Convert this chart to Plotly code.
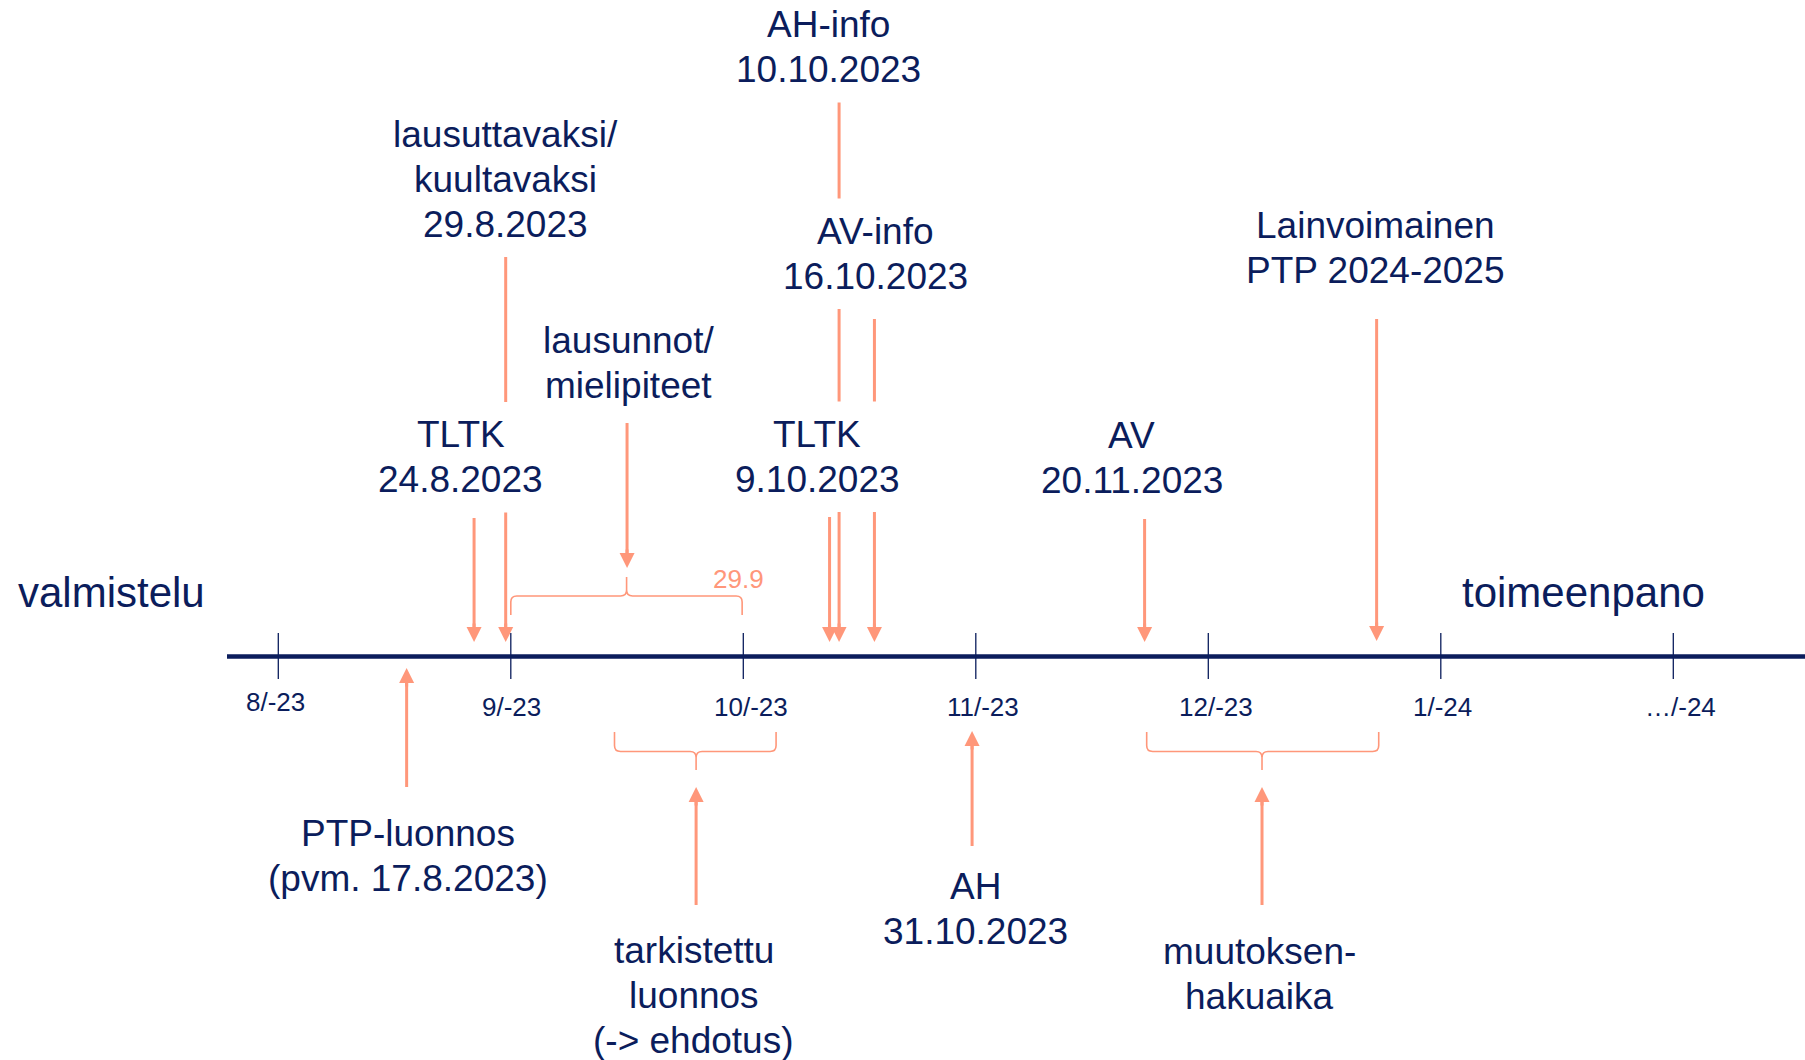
import plotly.graph_objects as go

# ---------------- data ----------------
# month ticks on the timeline (0 = 8/-23 ... 6 = …/-24)
tick_pos = [0, 1, 2, 3, 4, 5, 6]
tick_labels = ["8/-23", "9/-23", "10/-23", "11/-23", "12/-23", "1/-24", "…/-24"]
tick_label_dx = [-5, -2, -2, -2, -2, -1, -1]    # small per-label nudges (px)
tick_label_base = [711.5, 716, 716, 716, 716, 716, 716]

phase_labels = ["valmistelu", "toimeenpano"]
phase_x = [-1.124, 5.086]

# milestones above the timeline (arrows pointing down), x in months
top_x = [0.842, 0.978, 1.500, 2.371, 2.412, 2.564, 3.726, 4.724]
top_start = [518, 257, 423, 517, 101, 319, 519, 319]
top_tip = [642, 642, 568, 642, 642, 642, 642, 641]

# milestones below the timeline (arrows pointing up)
bot_x = [0.552, 1.797, 2.984, 4.231]
bot_start = [787, 905, 846, 905]
bot_tip = [668, 787, 731, 787]

label_text = [
    "AH-info\n10.10.2023",
    "lausuttavaksi/\nkuultavaksi\n29.8.2023",
    "AV-info\n16.10.2023",
    "Lainvoimainen\nPTP 2024-2025",
    "lausunnot/\nmielipiteet",
    "TLTK\n24.8.2023",
    "TLTK\n9.10.2023",
    "AV\n20.11.2023",
    "PTP-luonnos\n(pvm. 17.8.2023)",
    "tarkistettu\nluonnos\n(-> ehdotus)",
    "AH\n31.10.2023",
    "muutoksen-\nhakuaika",
]
label_x = [2.366, 0.978, 2.569, 4.720, 1.508, 0.784, 2.317, 3.671, 0.558, 1.786, 2.997, 4.222]
label_y = [37.5, 147, 244, 238.5, 353, 447.5, 447, 448.5, 846, 963, 899.5, 964]

# periods (curly braces)
brace_from = [1.0, 1.446, 3.735]
brace_to = [1.995, 2.141, 4.733]
brace_mid = [1.498, 1.797, 4.231]
brace_side = ["top", "bottom", "bottom"]

period_label = "29.9"
period_x = 1.98

# ---------------- style ----------------
NAVY = "#0B1D5C"
SALMON = "#FF977A"
FONT = "Liberation Sans, Arial, sans-serif"
W, H = 1805, 1060
X0_PX, DX_PX = 278.3, 232.5          # pixel position of month 0 and pixels per month
LINE_H = 45
LBL = 37

def px(v):
    return v / DX_PX

shapes = []
annotations = []

# arrow shafts
for x, s, t in zip(top_x, top_start, top_tip):
    shapes.append(dict(type="line", xref="x", yref="y", x0=x, x1=x, y0=s, y1=t - 8,
                       line=dict(color=SALMON, width=3)))
for x, s, t in zip(bot_x, bot_start, bot_tip):
    shapes.append(dict(type="line", xref="x", yref="y", x0=x, x1=x, y0=s, y1=t + 8,
                       line=dict(color=SALMON, width=3)))

# white boxes behind labels (hide lines passing behind text)
def text_w(line, size):
    return len(line) * 0.5 * size

for txt, x, y in zip(label_text, label_x, label_y):
    lines = txt.split("\n")
    w = max(text_w(l, LBL) for l in lines)
    top = y - 0.716 * LBL - 19
    bottom = y + (len(lines) - 1) * LINE_H + 20
    shapes.append(dict(type="rect", xref="x", yref="y", x0=x - px(w / 2), x1=x + px(w / 2),
                       y0=top, y1=bottom, fillcolor="white", line=dict(width=0)))

# timeline axis and ticks
shapes.append(dict(type="line", xref="x", yref="y", x0=-0.2206, x1=7.0, y0=656.5, y1=656.5,
                   line=dict(color=NAVY, width=4.5)))
for t in tick_pos:
    shapes.append(dict(type="line", xref="x", yref="y", x0=t, x1=t, y0=633, y1=679,
                       line=dict(color=NAVY, width=1.3)))

# braces
def brace_path(x0, x1, xm, y_tip, y_bar, y_spike, r=6):
    rx = px(r)
    ry = r if y_tip > y_bar else -r
    f = lambda v: f"{v:.5f}"
    return (f"M{f(x0)},{y_tip} L{f(x0)},{y_bar + ry} Q{f(x0)},{y_bar} {f(x0 + rx)},{y_bar} "
            f"L{f(xm - rx)},{y_bar} Q{f(xm)},{y_bar} {f(xm)},{y_bar - ry} L{f(xm)},{y_spike} "
            f"M{f(xm)},{y_bar - ry} Q{f(xm)},{y_bar} {f(xm + rx)},{y_bar} "
            f"L{f(x1 - rx)},{y_bar} Q{f(x1)},{y_bar} {f(x1)},{y_bar + ry} L{f(x1)},{y_tip}")

for a, b, m, side in zip(brace_from, brace_to, brace_mid, brace_side):
    if side == "top":
        p = brace_path(a, b, m, 615, 596, 577)
    else:
        p = brace_path(a, b, m, 732, 751.5, 770)
    shapes.append(dict(type="path", xref="x", yref="y", path=p,
                       line=dict(color=SALMON, width=1.6)))

# arrow heads
for x, t in zip(top_x, top_tip):
    annotations.append(dict(x=x, y=t, ax=x, ay=t - 20, xref="x", yref="y", axref="x", ayref="y",
                            text="", showarrow=True, arrowhead=2, arrowsize=1, arrowwidth=3,
                            arrowcolor=SALMON, standoff=0))
for x, t in zip(bot_x, bot_tip):
    annotations.append(dict(x=x, y=t, ax=x, ay=t + 20, xref="x", yref="y", axref="x", ayref="y",
                            text="", showarrow=True, arrowhead=2, arrowsize=1, arrowwidth=3,
                            arrowcolor=SALMON, standoff=0))

K = 0.3465  # baseline -> text-box centre factor

# milestone labels, one annotation per line
for txt, x, y in zip(label_text, label_x, label_y):
    for i, line in enumerate(txt.split("\n")):
        annotations.append(dict(x=x, y=y + i * LINE_H - K * LBL, xref="x", yref="y",
                                text=line, showarrow=False, xanchor="center", yanchor="middle",
                                font=dict(family=FONT, size=LBL, color=NAVY)))

# tick labels
for t, lab, dx, base in zip(tick_pos, tick_labels, tick_label_dx, tick_label_base):
    annotations.append(dict(x=t, y=base - K * 26, xref="x", yref="y", text=lab, showarrow=False,
                            xanchor="left", yanchor="middle", xshift=-29 + dx,
                            font=dict(family=FONT, size=26, color=NAVY)))

# phase labels
for lab, x in zip(phase_labels, phase_x):
    annotations.append(dict(x=x, y=607 - K * 42, xref="x", yref="y", text=lab, showarrow=False,
                            xanchor="left", yanchor="middle", xshift=-1,
                            font=dict(family=FONT, size=42, color=NAVY)))

# period label
annotations.append(dict(x=period_x, y=588 - K * 26, xref="x", yref="y", text=period_label,
                        showarrow=False, xanchor="center", yanchor="middle",
                        font=dict(family=FONT, size=26, color=SALMON)))

fig = go.Figure()
fig.update_layout(
    width=W, height=H, autosize=False,
    margin=dict(l=0, r=0, t=0, b=0, pad=0),
    paper_bgcolor="white", plot_bgcolor="white",
    xaxis=dict(range=[-X0_PX / DX_PX, (W - X0_PX) / DX_PX], visible=False, fixedrange=True),
    yaxis=dict(range=[H, 0], visible=False, fixedrange=True),
    shapes=shapes, annotations=annotations, showlegend=False,
)

fig.write_html("out.html", config={"displayModeBar": False},
               post_script="document.body.style.margin='0';")
